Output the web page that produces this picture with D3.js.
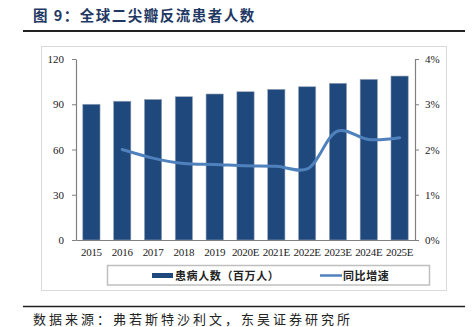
<!DOCTYPE html>
<html><head><meta charset="utf-8">
<script src="https://cdn.jsdelivr.net/npm/d3@7"></script>
<style>
html,body{margin:0;padding:0;background:#fff;}
svg{display:block;}
</style></head>
<body>
<svg id="c" width="476" height="327"></svg>
<script>
const years = ["2015","2016","2017","2018","2019","2020E","2021E","2022E","2023E","2024E","2025E"];
const patients = [90, 92, 93.2, 95, 96.8, 98.3, 99.9, 101.6, 103.9, 106.5, 108.7];
const growth = [null, 2.0, 1.81, 1.69, 1.67, 1.64, 1.63, 1.57, 2.41, 2.22, 2.26];
const leftTicks = [0, 30, 60, 90, 120];
const rightTicks = [0, 1, 2, 3, 4];
const titleText = "图 9：全球二尖瓣反流患者人数";
const sourceText = "数据来源：弗若斯特沙利文，东吴证券研究所";
const legendLabels = ["患病人数（百万人）", "同比增速"];

const svg = d3.select("#c");
const serif = "'Liberation Serif','Times New Roman',serif";
const cjk = "'Noto Sans CJK SC','Noto Sans CJK JP',sans-serif";

// Title
svg.append("text").attr("x", 33).attr("y", 21)
  .attr("font-family", cjk).attr("font-weight", "bold").attr("font-size", 14.5)
  .attr("fill", "#1f3864").attr("letter-spacing", 1.5).text(titleText);
svg.append("line").attr("x1", 23).attr("x2", 465).attr("y1", 31).attr("y2", 31)
  .attr("stroke", "#222").attr("stroke-width", 2);

// Chart frame
svg.append("rect").attr("x", 41.5).attr("y", 46.5).attr("width", 405).attr("height", 244)
  .attr("fill", "none").attr("stroke", "#d9d9d9").attr("stroke-width", 1);

const x0 = 76, x1 = 415, yTop = 59, yBot = 240;
const x = d3.scaleBand().domain(years).range([x0, x1]).paddingInner(0.44).paddingOuter(0.22);
const yL = d3.scaleLinear().domain([0, 120]).range([yBot, yTop]);
const yR = d3.scaleLinear().domain([0, 4]).range([yBot, yTop]);

// Bars
svg.append("g").selectAll("rect").data(patients).join("rect")
  .attr("x", (d, i) => x(years[i]))
  .attr("y", d => yL(d))
  .attr("width", x.bandwidth())
  .attr("height", d => yBot - yL(d))
  .attr("fill", "#1f497d")
  .attr("stroke", "#9aa6b8").attr("stroke-width", 0.6);

// Left axis
const gL = svg.append("g").attr("transform", `translate(${x0},0)`)
  .call(d3.axisLeft(yL).tickValues(leftTicks).tickSize(4).tickPadding(8).tickSizeOuter(0));
// Right axis
const gR = svg.append("g").attr("transform", `translate(${x1},0)`)
  .call(d3.axisRight(yR).tickValues(rightTicks).tickSize(4).tickPadding(6).tickSizeOuter(0)
    .tickFormat(d => d + "%"));
// Bottom axis
const gB = svg.append("g").attr("transform", `translate(0,${yBot})`)
  .call(d3.axisBottom(x).tickSize(0).tickPadding(8).tickSizeOuter(0));

[gL, gR, gB].forEach(g => {
  g.selectAll("path.domain").attr("stroke", "#808080").attr("stroke-width", 1.2);
  g.selectAll(".tick line").attr("stroke", "#808080");
  g.selectAll("text").attr("font-family", serif).attr("font-size", 11).attr("fill", "#222");
});
gB.selectAll("text").attr("font-size", 11).attr("letter-spacing", -0.3);

// Growth line
const lineData = growth.map((g, i) => ({year: years[i], g})).filter(d => d.g != null);
const line = d3.line()
  .x(d => x(d.year) + x.bandwidth() / 2)
  .y(d => yR(d.g))
  .curve(d3.curveCatmullRom.alpha(0.5));
svg.append("path").datum(lineData).attr("d", line)
  .attr("fill", "none").attr("stroke", "#4f81bd").attr("stroke-width", 3)
  .attr("stroke-linecap", "round");

// Legend
svg.append("rect").attr("x", 107.5).attr("y", 265.5).attr("width", 322).attr("height", 19.5)
  .attr("fill", "#fff").attr("stroke", "#bfbfbf").attr("stroke-width", 1.5);
svg.append("rect").attr("x", 152).attr("y", 273).attr("width", 21).attr("height", 5).attr("fill", "#1f497d");
svg.append("text").attr("x", 175).attr("y", 279.5)
  .attr("font-family", cjk).attr("font-weight", "bold").attr("font-size", 11)
  .attr("letter-spacing", 0.6).attr("fill", "#222").text(legendLabels[0]);
svg.append("line").attr("x1", 320).attr("x2", 342).attr("y1", 275.5).attr("y2", 275.5)
  .attr("stroke", "#4f81bd").attr("stroke-width", 2.5);
svg.append("text").attr("x", 343).attr("y", 279.5)
  .attr("font-family", cjk).attr("font-weight", "bold").attr("font-size", 11)
  .attr("letter-spacing", 0.6).attr("fill", "#222").text(legendLabels[1]);

// Source
svg.append("line").attr("x1", 23).attr("x2", 465).attr("y1", 306.5).attr("y2", 306.5)
  .attr("stroke", "#222").attr("stroke-width", 1.3);
svg.append("text").attr("x", 33).attr("y", 324)
  .attr("font-family", cjk).attr("font-size", 13).attr("letter-spacing", 3)
  .attr("fill", "#222").text(sourceText);
</script>
</body></html>
